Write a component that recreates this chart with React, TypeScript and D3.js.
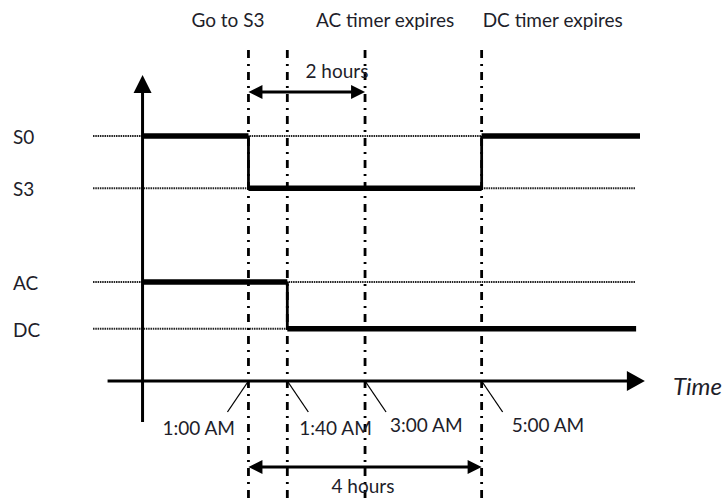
import React from "react";
import * as d3 from "d3";

// ---- data (minutes after midnight) ----
const eventTimes = [60, 100, 180, 300];
const eventLabels = ["1:00 AM", "1:40 AM", "3:00 AM", "5:00 AM"];
const topLabels = ["Go to S3", "", "AC timer expires", "DC timer expires"];
const levelNames = ["S0", "S3", "AC", "DC"];
const levelValues = [0, 1, 2.8, 3.7];
const powerSteps = [
  { t: -49, s: "S0" },
  { t: 60, s: "S3" },
  { t: 300, s: "S0" },
];
const powerEnd = 463;
const sourceSteps = [
  { t: -49, s: "AC" },
  { t: 100, s: "DC" },
];
const sourceEnd = 459;
const durations = [
  { from: 60, to: 180, label: "2 hours" },
  { from: 60, to: 300, label: "4 hours" },
];

// ---- layout ----
const W = 727;
const H = 502;
const FONT = "Lato, 'Open Sans', sans-serif";
const TXT = "#1e1e2a";
const x = d3.scaleLinear().domain([-100, 463]).range([93, 640]);
const y = d3.scaleLinear().domain([0, 4.7]).range([136, 381]);
const axisLevel = 4.7;
const originT = -49;
const topLabelDx = [-57, 0, -49, 1];
const tickDir = [-1, 1, 1, 1];
const tickLabelDx = [-86, 12, 25, 30];
const tickLabelBaseline = [435, 435, 432, 432];
const durY = [92, 467];
const durTextY = [78, 493];
const durTextDx = [57, 83];

const levelY = (s: string) => y(levelValues[levelNames.indexOf(s)]);

function stepSegments(steps: { t: number; s: string }[], end: number) {
  const hs: [number, number, number][] = [];
  const vs: [number, number, number][] = [];
  steps.forEach((st, i) => {
    const t1 = i < steps.length - 1 ? steps[i + 1].t : end;
    hs.push([x(st.t), x(t1), levelY(st.s)]);
    if (i > 0) vs.push([x(st.t), levelY(steps[i - 1].s), levelY(st.s)]);
  });
  return { hs, vs };
}

function Arrowhead({ tipX, tipY, dir, len, half }: { tipX: number; tipY: number; dir: "left" | "right" | "up"; len: number; half: number }) {
  let pts: [number, number][];
  if (dir === "right") pts = [[tipX, tipY], [tipX - len, tipY - half], [tipX - len, tipY + half]];
  else if (dir === "left") pts = [[tipX, tipY], [tipX + len, tipY - half], [tipX + len, tipY + half]];
  else pts = [[tipX, tipY], [tipX - half, tipY + len], [tipX + half, tipY + len]];
  return <polygon points={pts.map((p) => p.join(",")).join(" ")} fill="#000" />;
}

export default function App() {
  const power = stepSegments(powerSteps, powerEnd);
  const source = stepSegments(sourceSteps, sourceEnd);
  const axisY = y(axisLevel);
  const ox = x(originT);
  const yTop = 75;
  const yBottom = 422;
  const axisStart = x(-85);
  const axisTip = x(568 - 100);
  return (
    <svg width={W} height={H} style={{ position: "absolute", left: 0, top: 0, background: "#fff" }} fontFamily={FONT}>
      {/* dotted level guides */}
      {levelNames.map((n) => (
        <line key={"g" + n} x1={x(-100)} x2={x(458)} y1={levelY(n)} y2={levelY(n)} stroke="#222" strokeWidth={2} strokeDasharray="1.5 0.8" />
      ))}
      {/* dash-dot event lines */}
      {eventTimes.map((t, i) => (
        <line key={"v" + i} x1={x(t)} x2={x(t)} y1={50} y2={H} stroke="#000" strokeWidth={2.8} strokeDasharray="8 6 2 6" />
      ))}
      {/* axes */}
      <line x1={ox} x2={ox} y1={yBottom} y2={yTop + 12} stroke="#000" strokeWidth={3} />
      <Arrowhead tipX={ox} tipY={yTop} dir="up" len={18} half={9} />
      <line x1={axisStart} x2={axisTip - 12} y1={axisY} y2={axisY} stroke="#000" strokeWidth={3} />
      <Arrowhead tipX={axisTip} tipY={axisY} dir="right" len={18} half={10} />
      <text x={673} y={395} fontSize={24} fontStyle="italic" fill={TXT}>Time</text>
      {/* signals */}
      {[power, source].map((sig, k) => (
        <g key={"s" + k}>
          {sig.vs.map((v, i) => (
            <line key={"sv" + i} x1={v[0]} x2={v[0]} y1={v[1]} y2={v[2]} stroke="#000" strokeWidth={2.8} />
          ))}
          {sig.hs.map((h, i) => (
            <line key={"sh" + i} x1={h[0]} x2={h[1]} y1={h[2]} y2={h[2]} stroke="#000" strokeWidth={5.5} />
          ))}
        </g>
      ))}
      {/* level labels */}
      {levelNames.map((n) => (
        <text key={"l" + n} x={13} y={levelY(n) + 8} fontSize={19} fill={TXT}>{n}</text>
      ))}
      {/* top event labels */}
      {topLabels.map((lab, i) =>
        lab ? (
          <text key={"t" + i} x={x(eventTimes[i]) + topLabelDx[i]} y={27} fontSize={19} fill={TXT}>{lab}</text>
        ) : null
      )}
      {/* tick slants and time labels */}
      {eventTimes.map((t, i) => (
        <g key={"k" + i}>
          <line x1={x(t)} y1={axisY} x2={x(t) + tickDir[i] * 21} y2={axisY + 31} stroke="#000" strokeWidth={1.3} />
          <text x={x(t) + tickLabelDx[i]} y={tickLabelBaseline[i]} fontSize={19} fill={TXT}>{eventLabels[i]}</text>
        </g>
      ))}
      {/* duration arrows */}
      {durations.map((d, i) => (
        <g key={"d" + i}>
          <line x1={x(d.from) + 12} x2={x(d.to) - 12} y1={durY[i]} y2={durY[i]} stroke="#000" strokeWidth={3} />
          <Arrowhead tipX={x(d.from)} tipY={durY[i]} dir="left" len={14} half={7} />
          <Arrowhead tipX={x(d.to)} tipY={durY[i]} dir="right" len={14} half={7} />
          <text x={x(d.from) + durTextDx[i]} y={durTextY[i]} fontSize={19} fill={TXT}>{d.label}</text>
        </g>
      ))}
    </svg>
  );
}
